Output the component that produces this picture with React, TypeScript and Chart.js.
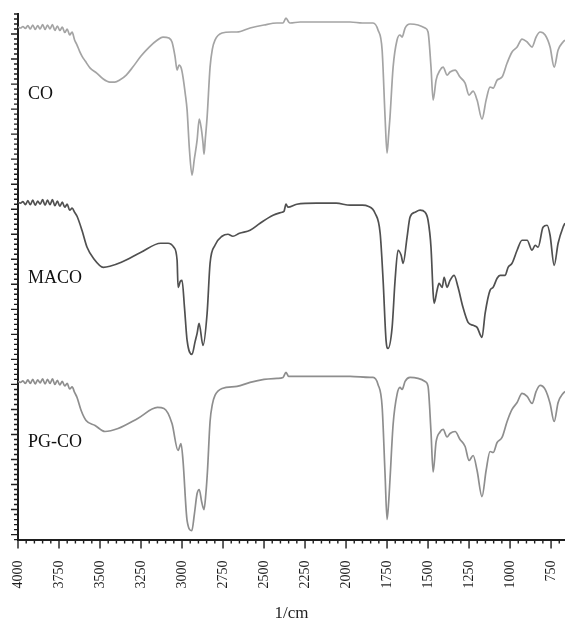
import { useEffect, useRef } from "react";
import { Chart, registerables } from "chart.js";

Chart.register(...registerables);

// Axis ranges (wavenumber, 1/cm) and offset transmittance (arbitrary units)
const X_MIN = 665;
const X_MAX = 4000;
const X_MAJOR = 250;
const X_MINOR = 50;
const Y_MIN = -1;
const Y_MAX = 104;
const Y_MAJOR = 5;
const Y_MINOR = 1;

const AXIS_TITLE = "1/cm";
const SERIES_NAMES = ["CO", "MACO", "PG-CO"];
const SERIES_COLORS = ["#a4a4a4", "#505050", "#8e8e8e"];
// label anchor: [wavenumber, value] for the left edge / baseline of each name
const LABEL_ANCHORS: [number, number][] = [
  [3939, 87],
  [3939, 50.2],
  [3939, 17.4],
];

const CO: [number, number][] = [
  [4000, 101.4], [3985, 101.2], [3970, 101.5], [3955, 101.1], [3940, 101.7], [3925, 101.0],
  [3910, 101.8], [3895, 100.9], [3880, 101.7], [3865, 101.0], [3850, 101.9], [3835, 100.9],
  [3820, 101.8], [3805, 101.0], [3790, 101.9], [3775, 100.7], [3760, 101.6], [3745, 100.7],
  [3730, 101.4], [3715, 100.3], [3700, 101.0], [3685, 99.8], [3670, 100.4], [3655, 98.8],
  [3640, 97.8], [3625, 96.6], [3610, 95.6], [3590, 94.6], [3560, 93.2], [3520, 92.2],
  [3480, 91.0], [3440, 90.4], [3410, 90.4], [3380, 90.8], [3340, 91.8], [3300, 93.4],
  [3250, 95.6], [3200, 97.4], [3150, 98.8], [3116, 99.4], [3080, 99.2], [3061, 98.4],
  [3043, 95.6], [3030, 92.8], [3018, 93.8], [3005, 93.2], [2994, 91.4], [2980, 88.0],
  [2969, 84.8], [2955, 77.0], [2939, 71.8], [2925, 75.0], [2908, 78.8], [2895, 83.0],
  [2882, 81.0], [2872, 78.2], [2866, 76.0], [2858, 79.0], [2847, 83.4], [2829, 93.4],
  [2815, 97.0], [2799, 98.8], [2756, 100.2], [2700, 100.4], [2665, 100.4], [2585, 101.2],
  [2500, 101.8], [2421, 102.2], [2384, 102.2], [2366, 103.2], [2350, 102.4], [2341, 102.2],
  [2280, 102.4], [2200, 102.4], [2100, 102.4], [1975, 102.4], [1900, 102.2], [1853, 102.2],
  [1835, 102.2], [1805, 100.8], [1780, 96.8], [1762, 83.4], [1750, 76.2], [1740, 80.0],
  [1732, 83.4], [1713, 93.4], [1689, 98.8], [1671, 99.8], [1658, 99.4], [1640, 101.2],
  [1610, 102.0], [1561, 101.8], [1518, 101.2], [1500, 100.4], [1482, 93.4], [1469, 86.8],
  [1451, 90.8], [1427, 92.8], [1408, 93.4], [1384, 91.8], [1366, 92.4], [1335, 92.8],
  [1305, 91.4], [1274, 90.2], [1250, 87.8], [1225, 88.6], [1201, 86.8], [1171, 83.0],
  [1146, 86.8], [1122, 89.4], [1103, 89.2], [1079, 90.8], [1049, 91.4], [1018, 94.2],
  [988, 96.4], [957, 97.4], [927, 99.0], [896, 98.4], [866, 97.4], [841, 99.4],
  [817, 100.4], [786, 99.8], [756, 97.4], [731, 93.4], [707, 96.8], [677, 98.4],
  [665, 98.8],
];

const MACO: [number, number][] = [
  [4000, 66.4], [3985, 66.2], [3970, 66.5], [3955, 65.9], [3940, 66.7], [3925, 65.9],
  [3910, 66.8], [3895, 65.8], [3880, 66.6], [3865, 66.0], [3850, 66.9], [3835, 65.8],
  [3820, 66.8], [3805, 65.9], [3790, 66.9], [3775, 65.7], [3760, 66.6], [3745, 65.6],
  [3730, 66.4], [3715, 65.4], [3700, 66.0], [3685, 64.8], [3670, 65.2], [3655, 64.4],
  [3640, 63.6], [3610, 60.8], [3579, 57.4], [3540, 55.2], [3480, 53.4], [3440, 53.6],
  [3370, 54.4], [3250, 56.4], [3130, 58.2], [3085, 58.2], [3050, 57.4], [3030, 54.8],
  [3024, 49.4], [3010, 50.6], [3000, 50.8], [2985, 45.4], [2969, 38.8], [2939, 36.0],
  [2920, 38.6], [2908, 40.2], [2896, 42.2], [2872, 37.8], [2847, 44.2], [2829, 54.2],
  [2799, 57.8], [2756, 59.6], [2720, 60.0], [2690, 59.6], [2650, 60.2], [2585, 60.8],
  [2524, 62.2], [2445, 63.8], [2390, 64.4], [2378, 64.6], [2366, 66.0], [2354, 65.4],
  [2300, 66.0], [2180, 66.2], [2060, 66.2], [1975, 65.8], [1900, 65.8], [1866, 65.6],
  [1823, 64.2], [1792, 60.2], [1774, 50.8], [1756, 38.8], [1744, 37.2], [1719, 41.4],
  [1701, 50.8], [1683, 56.8], [1664, 55.8], [1652, 54.2], [1628, 59.4], [1610, 63.4],
  [1579, 64.4], [1549, 64.8], [1518, 64.4], [1500, 62.8], [1482, 57.4], [1469, 48.2],
  [1463, 46.2], [1445, 48.8], [1433, 50.2], [1414, 49.4], [1402, 51.4], [1384, 49.4],
  [1366, 50.8], [1341, 51.8], [1317, 49.4], [1287, 45.4], [1256, 42.4], [1225, 41.8],
  [1201, 41.4], [1171, 39.4], [1152, 44.2], [1122, 48.8], [1103, 49.4], [1079, 51.2],
  [1061, 51.8], [1030, 51.8], [1012, 53.4], [988, 54.2], [957, 56.8], [927, 58.8],
  [896, 58.8], [866, 56.8], [847, 57.8], [829, 57.4], [799, 61.4], [774, 61.8],
  [756, 59.8], [731, 53.8], [707, 58.2], [677, 61.4], [665, 62.2],
];

const PG_CO: [number, number][] = [
  [4000, 30.6], [3985, 30.4], [3970, 30.7], [3955, 30.2], [3940, 30.9], [3925, 30.2],
  [3910, 31.0], [3895, 30.1], [3880, 30.9], [3865, 30.3], [3850, 31.1], [3835, 30.1],
  [3820, 31.0], [3805, 30.2], [3790, 31.1], [3775, 30.0], [3760, 30.8], [3745, 29.9],
  [3730, 30.6], [3715, 29.7], [3700, 30.2], [3685, 29.1], [3670, 29.5], [3655, 28.4],
  [3640, 27.4], [3615, 24.8], [3585, 22.8], [3530, 21.8], [3470, 20.6], [3390, 21.2],
  [3270, 23.2], [3150, 25.4], [3110, 25.2], [3061, 22.2], [3024, 16.8], [3006, 18.2],
  [2994, 14.8], [2969, 2.8], [2940, 0.8], [2925, 4.0], [2908, 8.2], [2895, 9.0],
  [2880, 6.5], [2866, 5.0], [2855, 8.0], [2845, 12.6], [2829, 22.6], [2815, 26.0],
  [2799, 27.8], [2756, 29.2], [2665, 29.6], [2585, 30.4], [2500, 31.0], [2421, 31.2],
  [2384, 31.4], [2366, 32.4], [2350, 31.6], [2280, 31.6], [2100, 31.6], [1975, 31.6],
  [1853, 31.4], [1835, 31.4], [1805, 30.0], [1780, 25.6], [1762, 12.0], [1750, 3.0],
  [1740, 6.5], [1732, 11.0], [1713, 22.0], [1689, 28.0], [1671, 29.4], [1658, 29.0],
  [1640, 30.6], [1610, 31.4], [1561, 31.2], [1518, 30.6], [1500, 29.6], [1482, 20.5],
  [1469, 12.5], [1451, 18.5], [1427, 20.5], [1408, 21.0], [1384, 19.5], [1366, 20.2],
  [1335, 20.6], [1305, 19.0], [1274, 17.6], [1250, 14.8], [1225, 15.8], [1201, 12.8],
  [1171, 7.6], [1146, 12.8], [1122, 16.6], [1103, 16.4], [1079, 18.4], [1049, 19.4],
  [1018, 22.6], [988, 25.0], [957, 26.4], [927, 28.2], [896, 27.6], [866, 26.2],
  [841, 28.6], [817, 29.8], [786, 29.0], [756, 26.2], [731, 22.6], [707, 26.4],
  [677, 28.2], [665, 28.6],
];

const SERIES = [CO, MACO, PG_CO];
const FONT = '"Liberation Serif", "Times New Roman", serif';
const INK = "#1e1e1e";

const decorPlugin = {
  id: "decor",
  afterDraw(chart: any) {
    const { ctx, chartArea, scales } = chart;
    const x = scales.x;
    const y = scales.y;
    ctx.save();
    ctx.strokeStyle = INK;
    ctx.lineWidth = 1.4;
    ctx.beginPath();
    for (let v = Math.ceil(X_MIN / X_MINOR) * X_MINOR; v <= X_MAX; v += X_MINOR) {
      const px = x.getPixelForValue(v);
      const len = v % X_MAJOR === 0 ? 9 : 4;
      ctx.moveTo(px, chartArea.bottom);
      ctx.lineTo(px, chartArea.bottom + len);
    }
    for (let v = Y_MIN; v <= Y_MAX; v += Y_MINOR) {
      const py = y.getPixelForValue(v);
      const len = v % Y_MAJOR === 0 ? 7 : 4;
      ctx.moveTo(chartArea.left, py);
      ctx.lineTo(chartArea.left - len, py);
    }
    ctx.stroke();
    ctx.fillStyle = "#111";
    ctx.font = `18px ${FONT}`;
    ctx.textAlign = "left";
    ctx.textBaseline = "alphabetic";
    SERIES_NAMES.forEach((name, i) => {
      const [wx, wy] = LABEL_ANCHORS[i];
      ctx.fillText(name, x.getPixelForValue(wx), y.getPixelForValue(wy));
    });
    ctx.restore();
  },
};

export default function App() {
  const canvasRef = useRef<HTMLCanvasElement | null>(null);

  useEffect(() => {
    const canvas = canvasRef.current;
    if (!canvas) return;
    const chart = new Chart(canvas, {
      type: "line",
      data: {
        datasets: SERIES.map((s, i) => ({
          label: SERIES_NAMES[i],
          data: s.map(([wx, wy]) => ({ x: wx, y: wy })),
          borderColor: SERIES_COLORS[i],
          borderWidth: 1.7,
          pointRadius: 0,
          fill: false,
          cubicInterpolationMode: "monotone" as const,
        })),
      },
      options: {
        responsive: false,
        animation: false,
        devicePixelRatio: 1,
        layout: { padding: { left: 18, top: 14, right: 0, bottom: 0 } },
        plugins: {
          legend: { display: false },
          tooltip: { enabled: false },
          title: { display: false },
        },
        scales: {
          x: {
            type: "linear",
            reverse: true,
            min: X_MIN,
            max: X_MAX,
            afterFit: (scale: any) => {
              scale.paddingLeft = 0;
              scale.paddingRight = 0;
            },
            border: { display: true, color: INK, width: 2 },
            grid: {
              drawOnChartArea: false,
              drawTicks: true,
              tickLength: 9,
              color: "rgba(0,0,0,0)",
            },
            ticks: {
              stepSize: X_MAJOR,
              includeBounds: false,
              minRotation: 90,
              maxRotation: 90,
              padding: 12,
              color: INK,
              font: { family: FONT, size: 14 },
              callback: (v: any) => String(v),
            },
            title: {
              display: true,
              text: AXIS_TITLE,
              color: INK,
              font: { family: FONT, size: 17 },
              padding: { top: 3, bottom: 2 },
            },
          },
          y: {
            type: "linear",
            min: Y_MIN,
            max: Y_MAX,
            border: { display: true, color: INK, width: 2 },
            grid: { drawOnChartArea: false, drawTicks: false, color: "rgba(0,0,0,0)" },
            ticks: { display: false },
          },
        },
      },
      plugins: [decorPlugin],
    });
    return () => chart.destroy();
  }, []);

  return (
    <div style={{ position: "absolute", left: 0, top: 0, width: 565, height: 626, overflow: "hidden", background: "#fff" }}>
      <canvas ref={canvasRef} width={565} height={626} style={{ display: "block" }} />
    </div>
  );
}
